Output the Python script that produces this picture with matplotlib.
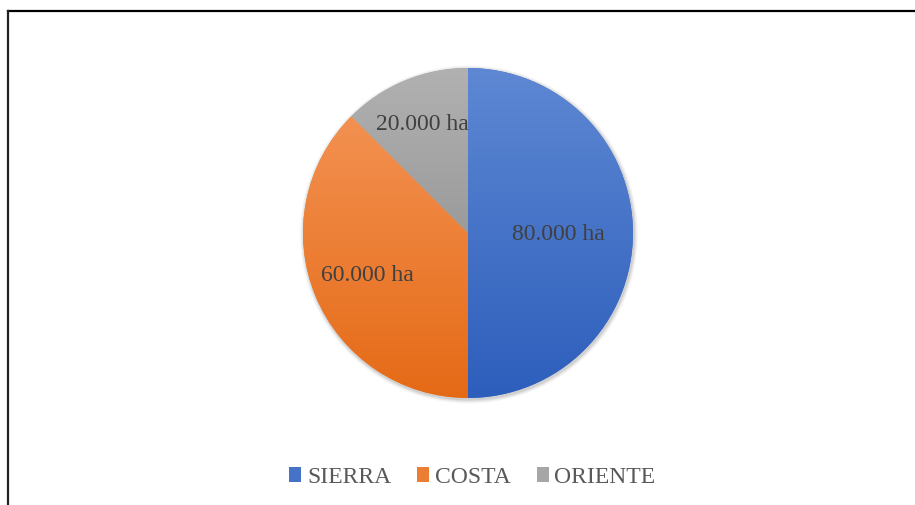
import matplotlib.pyplot as plt
import matplotlib.colors as mcolors
from matplotlib.lines import Line2D
from matplotlib.patches import Circle
import numpy as np

# superficie por region (ha)
regiones = ['SIERRA', 'COSTA', 'ORIENTE']
hectareas = [80000, 60000, 20000]

# gradient colours per slice: top, bottom
grad_top = ['#5E88D3', '#F39151', '#B1B1B1']
grad_bottom = ['#2D5EBC', '#E56A16', '#9B9B9B']
label_dist = [0.55, 0.66, 0.72]

plt.rcParams['font.family'] = ['Liberation Serif', 'DejaVu Serif']

W, H = 915, 506
fig = plt.figure(figsize=(W / 100, H / 100), dpi=100)
ax = fig.add_axes([0, 0, 1, 1])

cx, cy, r = 468, H - 234, 165

# soft shadow under the pie
for k, a in [(4, 0.03), (3, 0.04), (2, 0.05), (1, 0.07)]:
    ax.add_patch(Circle((cx + 1, cy - 1.5), r + k, color='black', alpha=a, lw=0, zorder=0))

mid = [mcolors.to_hex((np.array(mcolors.to_rgb(t)) + np.array(mcolors.to_rgb(b))) / 2)
       for t, b in zip(grad_top, grad_bottom)]

wedges, _ = ax.pie(hectareas, colors=mid, startangle=90, counterclock=False,
                   radius=r, center=(cx, cy), frame=True,
                   wedgeprops=dict(linewidth=0, zorder=1))

# vertical gradient inside each wedge
for w, top, bot in zip(wedges, grad_top, grad_bottom):
    ext = w.get_path().get_extents()
    cmap = mcolors.LinearSegmentedColormap.from_list('g', [bot, top])
    grad = np.linspace(0, 1, 256).reshape(-1, 1)
    im = ax.imshow(grad, cmap=cmap, origin='lower', aspect='auto',
                   extent=(ext.x0, ext.x1, ext.y0, ext.y1), zorder=2)
    im.set_clip_path(w)

# value labels
for w, v, d in zip(wedges, hectareas, label_dist):
    ang = np.deg2rad((w.theta1 + w.theta2) / 2)
    x = cx + d * r * np.cos(ang)
    y = cy + d * r * np.sin(ang)
    txt = f'{v:,}'.replace(',', '.') + ' ha'
    ax.text(x, y, txt, ha='center', va='center', fontsize=17, color='#404040', zorder=3)

ax.set_xlim(0, W)
ax.set_ylim(0, H)
ax.set_aspect('equal')
ax.axis('off')

leg = fig.legend(wedges, regiones, loc='center', bbox_to_anchor=(472.5 / W, 1 - 478 / H),
                 ncol=3, frameon=False, fontsize=17, handlelength=0.5, handleheight=0.6,
                 handletextpad=0.25, columnspacing=1.1, labelcolor='#595959')

# chart frame (top and left edges)
fig.add_artist(Line2D([7.5 / W, 1], [1 - 12 / H, 1 - 12 / H], color='black', lw=1.6,
                      transform=fig.transFigure))
fig.add_artist(Line2D([7.5 / W, 7.5 / W], [0, 1 - 12 / H], color='#222222', lw=1.6,
                      transform=fig.transFigure))

fig.savefig('out.png', dpi=100, facecolor='white')
